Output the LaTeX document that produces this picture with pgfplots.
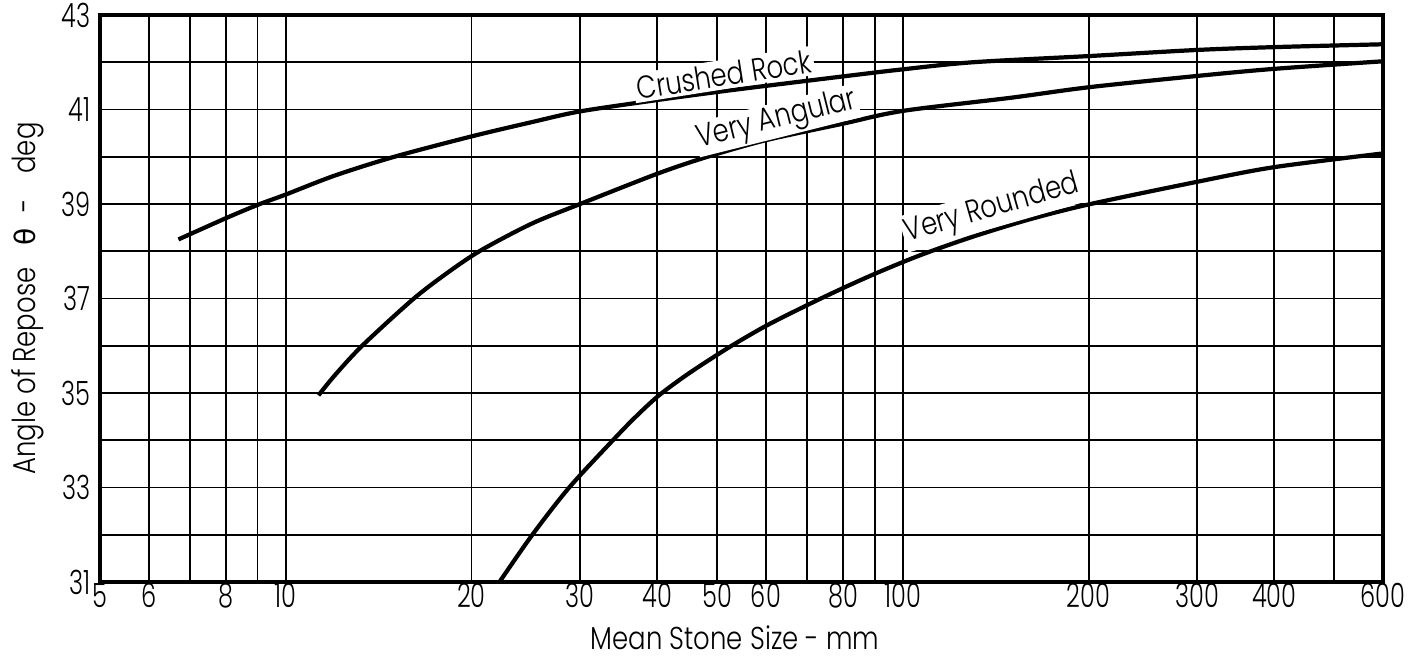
\documentclass[border=0pt]{standalone}
\usepackage{fontspec}
\setmainfont{Poppins}[UprightFont=* Light, FakeStretch=0.82]
\newfontfamily\tickfont{Poppins}[UprightFont=* Light, FakeStretch=0.72]
\newfontfamily\dejavu{DejaVu Sans}
\usepackage{pgfplots}
\pgfplotsset{compat=1.18}
\usetikzlibrary{calc}

\pgfplotstableread{
x y
6.7 38.25
8 38.70
9 38.98
10 39.20
12 39.60
15 40.00
20 40.43
25 40.73
30 40.96
40 41.20
50 41.37
60 41.50
80 41.70
100 41.85
130 42.00
200 42.13
300 42.26
400 42.32
600 42.38
}\crushed

\pgfplotstableread{
x y
11.3 34.95
12 35.37
13.3 36.00
16 36.96
18 37.48
20.6 38.00
25 38.58
30 39.00
40 39.64
48 39.99
60 40.35
80 40.70
100 40.97
150 41.25
200 41.47
300 41.71
400 41.86
600 42.02
}\angular

\pgfplotstableread{
x y
22.2 31.00
25.1 32.00
28.8 33.00
33.9 34.00
36.8 34.48
40 34.92
43.5 35.28
47 35.58
52.8 36.00
60 36.42
70 36.86
80 37.22
90 37.52
100 37.77
110 37.98
130 38.31
160 38.67
200 38.99
300 39.47
400 39.78
600 40.07
}\rounded

\begin{document}
\begin{tikzpicture}
\begin{axis}[
  xmode=log, scale only axis, width=128.3mm, height=56.7mm,
  xmin=5, xmax=600, ymin=31, ymax=43,
  xtick={5,6,7,8,9,10,20,30,40,50,60,70,80,90,100,200,300,400,500,600},
  xticklabels={5,6,,8,,10,20,30,40,50,60,,80,,100,200,300,400,,600},
  ytick={31,32,...,43},
  yticklabels={31,,33,,35,,37,,39,,41,,43},
  grid=major,
  major grid style={black, line width=0.55pt},
  major tick length=0pt,
  axis line style={black, line width=1pt},
  tick label style={font=\tickfont\fontsize{9.5}{10}\selectfont},
  xticklabel style={yshift=1.1mm},
  yticklabel style={xshift=0.3mm},
  xlabel={Mean Stone Size - mm},
  ylabel={Angle of Repose\hspace{0.7em}{\dejavu\fontsize{8}{10}\selectfont θ}\hspace{0.5em}-\hspace{0.8em}deg},
  label style={font=\fontsize{9}{10}\selectfont},
  xlabel style={at={(rel axis cs:0.495,0)}, anchor=center, yshift=-5.6mm},
  ylabel style={at={(rel axis cs:0,0.5)}, anchor=center, yshift=7.2mm},
  clip=false,
]
\addplot[black, line width=1.2pt, smooth, tension=0.5] table {\crushed};
\addplot[black, line width=1.2pt, smooth, tension=0.5] table {\angular};
\addplot[black, line width=1.2pt, smooth, tension=0.5] table {\rounded};
\node[rotate=9, anchor=south, inner sep=0.8pt, fill=white, font=\fontsize{9}{10}\selectfont] at (axis cs:51.7,41.42) {Crushed Rock};
\node[rotate=14, anchor=south, inner sep=0.4pt, fill=white, font=\fontsize{9}{10}\selectfont] at (axis cs:63.5,40.40) {Very Angular};
\node[rotate=16, anchor=south, inner sep=0.8pt, fill=white, font=\fontsize{9}{10}\selectfont] at (axis cs:142.4,38.50) {Very Rounded};
\coordinate (SW) at (rel axis cs:0,0);
\coordinate (NE) at (rel axis cs:1,1);
\end{axis}
\pgfresetboundingbox
\path ($(SW)+(-10mm,-8mm)$) rectangle ($(NE)+(2.7mm,1.5mm)$);
\end{tikzpicture}
\end{document}
